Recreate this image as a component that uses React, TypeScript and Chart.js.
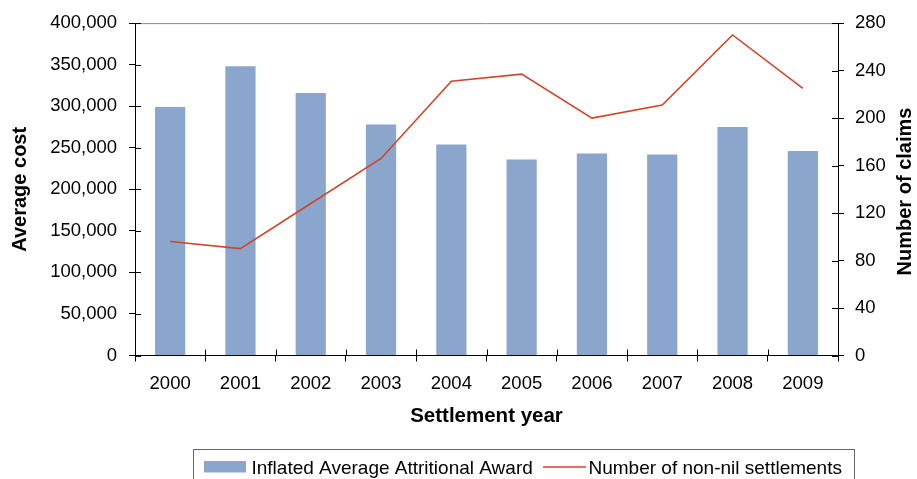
import React, { useEffect, useRef } from "react";
import { Chart, registerables } from "chart.js";

Chart.register(...registerables);

const years = ["2000", "2001", "2002", "2003", "2004", "2005", "2006", "2007", "2008", "2009"];
const avgAward = [299000, 348000, 316000, 278000, 254000, 236000, 243000, 242000, 275000, 246000];
const settlements = [96, 90, 128, 166, 231, 237, 200, 211, 270, 225];

const barLabel = "Inflated Average Attritional Award";
const lineLabel = "Number of non-nil settlements";
const leftTitle = "Average cost";
const rightTitle = "Number of claims";
const bottomTitle = "Settlement year";

const FONT = "'Liberation Sans', Arial, Helvetica, sans-serif";
const BAR_COLOR = "#8AA6CC";
const LINE_COLOR = "#D0452A";

export default function App() {
  const ref = useRef<HTMLCanvasElement | null>(null);

  useEffect(() => {
    if (!ref.current) return;

    const decor = {
      id: "decor",
      afterDraw(chart: any) {
        const ctx = chart.ctx as CanvasRenderingContext2D;
        const area = chart.chartArea;
        ctx.save();
        // top frame line
        ctx.strokeStyle = "#8c8c8c";
        ctx.lineWidth = 1;
        ctx.beginPath();
        ctx.moveTo(area.left, area.top + 0.5);
        ctx.lineTo(area.right, area.top + 0.5);
        ctx.stroke();

        // inner tick marks (ticks cross the axes)
        ctx.strokeStyle = "#000";
        const inner = 6;
        const y = chart.scales.y;
        y.ticks.forEach((t: any) => {
          const p = Math.round(y.getPixelForValue(t.value)) + 0.5;
          ctx.beginPath();
          ctx.moveTo(area.left, p);
          ctx.lineTo(area.left + inner, p);
          ctx.stroke();
        });
        const y1 = chart.scales.y1;
        y1.ticks.forEach((t: any) => {
          const p = Math.round(y1.getPixelForValue(t.value)) + 0.5;
          ctx.beginPath();
          ctx.moveTo(area.right, p);
          ctx.lineTo(area.right - inner, p);
          ctx.stroke();
        });
        const x = chart.scales.x;
        for (let i = 0; i <= years.length; i++) {
          const p = Math.round(x.getPixelForValue(i - 0.5)) + 0.5;
          ctx.beginPath();
          ctx.moveTo(p, area.bottom);
          ctx.lineTo(p, area.bottom - inner);
          ctx.stroke();
        }

        // right axis title (reads bottom to top)
        ctx.fillStyle = "#000";
        ctx.font = `bold 20px ${FONT}`;
        ctx.textAlign = "center";
        ctx.textBaseline = "middle";
        ctx.translate(905.5, 191.5);
        ctx.rotate(-Math.PI / 2);
        ctx.fillText(rightTitle, 0, 0);
        ctx.restore();

        // legend
        ctx.save();
        const ds = chart.data.datasets;
        ctx.strokeStyle = "#666";
        ctx.lineWidth = 1;
        ctx.strokeRect(193.5, 449.5, 661, 40);
        ctx.fillStyle = ds[1].backgroundColor;
        ctx.fillRect(204, 461, 42, 11.5);
        ctx.fillStyle = "#000";
        ctx.font = `19px ${FONT}`;
        ctx.textAlign = "left";
        ctx.textBaseline = "alphabetic";
        ctx.fillText(ds[1].label, 251.5, 473.5);
        ctx.strokeStyle = ds[0].borderColor;
        ctx.lineWidth = 1.5;
        ctx.beginPath();
        ctx.moveTo(543, 467);
        ctx.lineTo(586, 467);
        ctx.stroke();
        ctx.fillText(ds[0].label, 588.5, 473.5);
        ctx.restore();
      },
    };

    const tickFont = { family: FONT, size: 18.5 };

    const chart = new Chart(ref.current, {
      type: "bar",
      data: {
        labels: years,
        datasets: [
          {
            type: "line",
            label: lineLabel,
            data: settlements,
            borderColor: LINE_COLOR,
            backgroundColor: LINE_COLOR,
            borderWidth: 1.6,
            pointRadius: 0,
            tension: 0,
            yAxisID: "y1",
            order: 0,
          } as any,
          {
            type: "bar",
            label: barLabel,
            data: avgAward,
            backgroundColor: BAR_COLOR,
            borderWidth: 0,
            categoryPercentage: 1,
            barPercentage: 0.43,
            yAxisID: "y",
            order: 1,
          },
        ],
      },
      options: {
        animation: false,
        responsive: true,
        maintainAspectRatio: false,
        layout: { padding: { top: 21, left: 0, right: 0, bottom: 0 } },
        plugins: {
          legend: { display: false },
          tooltip: { enabled: false },
        },
        scales: {
          x: {
            offset: true,
            grid: {
              offset: true,
              drawOnChartArea: false,
              drawTicks: true,
              tickLength: 6,
              color: "#000",
            },
            border: { display: true, color: "#000", width: 1 },
            ticks: { font: tickFont, color: "#000", padding: 11, maxRotation: 0 },
            title: {
              display: true,
              text: bottomTitle,
              color: "#000",
              font: { family: FONT, size: 20.5, weight: "bold" },
              padding: { top: 0, bottom: 50 },
            },
            afterFit: (s: any) => {
              s.height = 123.5;
            },
          },
          y: {
            position: "left",
            min: 0,
            max: 400000,
            ticks: {
              stepSize: 50000,
              font: tickFont,
              color: "#000",
              padding: 12,
              callback: (v: any) => Number(v).toLocaleString("en-US"),
            },
            grid: {
              drawOnChartArea: false,
              drawTicks: true,
              tickLength: 6,
              color: "#000",
            },
            border: { display: true, color: "#000", width: 1 },
            title: {
              display: true,
              text: leftTitle,
              color: "#000",
              font: { family: FONT, size: 20, weight: "bold" },
              padding: { top: 8, bottom: 0 },
            },
            afterFit: (s: any) => {
              s.width = 135;
            },
          },
          y1: {
            position: "right",
            min: 0,
            max: 280,
            ticks: {
              stepSize: 40,
              font: tickFont,
              color: "#000",
              padding: 11,
            },
            grid: {
              drawOnChartArea: false,
              drawTicks: true,
              tickLength: 6,
              color: "#000",
            },
            border: { display: true, color: "#000", width: 1 },
            title: { display: false },
            afterFit: (s: any) => {
              s.width = 79;
            },
          },
        },
      },
      plugins: [decor],
    });

    return () => chart.destroy();
  }, []);

  return (
    <div style={{ position: "absolute", left: 0, top: 0, width: 917, height: 479, background: "#fff" }}>
      <canvas ref={ref} />
    </div>
  );
}
